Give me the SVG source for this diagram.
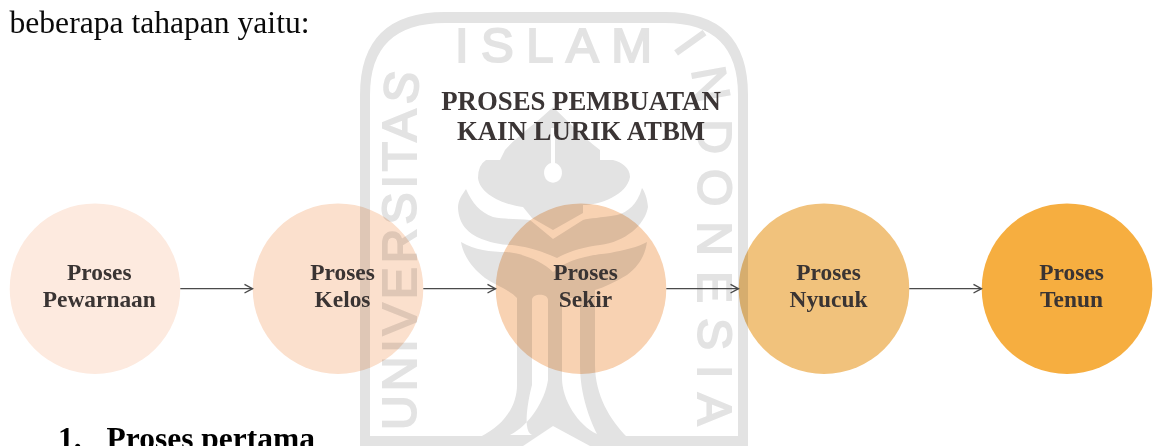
<svg xmlns="http://www.w3.org/2000/svg" width="1155" height="446" viewBox="0 0 1155 446">
<style>
.wm{fill:#e3e3e3}
.wmt{fill:#e3e3e3;stroke:#e3e3e3;stroke-width:2;font-family:"Liberation Sans",Arial,sans-serif;font-size:48px}
.c{mix-blend-mode:multiply}
.l{font-family:"Liberation Serif","Times New Roman",serif;font-weight:bold;font-size:23.4px;fill:#3a3433;text-anchor:middle}
.t{font-family:"Liberation Serif","Times New Roman",serif;font-weight:bold;font-size:26.8px;fill:#3b3535;text-anchor:middle}
.b{font-family:"Liberation Serif","Times New Roman",serif;font-size:31.6px;fill:#0a0a0a}
.bb{font-family:"Liberation Serif","Times New Roman",serif;font-size:31.5px;font-weight:bold;fill:#000}
.a{fill:none;stroke:#4a4a4a;stroke-width:1.3}
</style>
<defs>
<marker id="ah" markerUnits="userSpaceOnUse" markerWidth="12" markerHeight="12" refX="9" refY="6" orient="auto"><path d="M1,1.7L9,6L1,10.3" fill="none" stroke="#4a4a4a" stroke-width="1.4"/></marker>
<path id="pl" d="M416,430V120Q416,80 425,60"/>
<path id="pr" d="M672,48Q698,72 698,120V432"/>
</defs>
<rect width="1155" height="446" fill="#fff"/>
<g id="watermark">
<path class="wm" fill-rule="evenodd" d="M360,446V95Q360,12 445,12H665Q748,12 748,95V446ZM370,436H738V95Q738,23 665,23H445Q370,23 370,95Z"/>
<path class="wm" d="M553,107C540,120 515,138 505,150L500,160H486Q478,165 478,178C480,195 505,205 523,207L532,218L553,230L583,213V205C600,205 627,195 630,177C630,168 622,162 613,160H600L600,150C580,135 565,118 553,107Z"/>
<path fill="#fff" d="M551,128H555V163A9,10 0 1 1 551,163Z"/>
<path class="wm" d="M466,189C462,195 458,200 458,208C459,225 468,232 477,237C490,243 503,245 512,245C522,246 540,250 557,258C567,252 583,247 600,245C625,242 645,225 648,207C647,198 645,192 642,188C637,205 628,212 617,215C600,218 590,218 583,220L553,239L530,220C515,219 503,219 493,217C480,212 472,203 466,189Z"/>
<path class="wm" d="M461,242C475,250 490,252 507,252C525,254 543,262 553,272C565,262 580,256 610,253C625,250 638,247 647,242C645,255 640,265 627,275C615,282 605,287 595,290V365C595,395 610,420 627,437H480C505,425 517,405 517,385V298C510,290 495,285 485,278C472,268 463,255 461,242Z"/>
<path fill="#fff" d="M532,300C532,293 548,293 548,300V380C545,400 530,425 510,435H532C520,430 532,385 532,385Z"/>
<path fill="#fff" d="M562,298H580V365C580,395 590,420 597,434C578,425 562,400 562,378Z"/>
<path fill="#fff" d="M523,446L553,426L590,446Z"/>
<text class="wmt" x="455" y="62" textLength="197" style="font-size:49px">ISLAM</text>
<text class="wmt" letter-spacing="4"><textPath href="#pl">UNIVERSITAS</textPath></text>
<text class="wmt" letter-spacing="15"><textPath href="#pr">INDONESIA</textPath></text>
</g>
<text class="b" x="9.5" y="33">beberapa tahapan yaitu:</text>
<text class="t" x="581" y="109.5">PROSES PEMBUATAN</text>
<text class="t" x="581" y="140">KAIN LURIK ATBM</text>
<g id="n1"><circle class="c" cx="95" cy="288.7" r="85.3" fill="#fdeadf"/><text class="l" x="99.3" y="280">Proses</text><text class="l" x="99.3" y="307">Pewarnaan</text></g>
<g id="n2"><circle class="c" cx="338" cy="288.7" r="85.3" fill="#fbe0cd"/><text class="l" x="342.5" y="280">Proses</text><text class="l" x="342.5" y="307">Kelos</text></g>
<g id="n3"><circle class="c" cx="581" cy="288.7" r="85.3" fill="#f8d2b2"/><text class="l" x="585.5" y="280">Proses</text><text class="l" x="585.5" y="307">Sekir</text></g>
<g id="n4"><circle class="c" cx="824" cy="288.7" r="85.3" fill="#f1c27c"/><text class="l" x="828.5" y="280">Proses</text><text class="l" x="828.5" y="307">Nyucuk</text></g>
<g id="n5"><circle class="c" cx="1067" cy="288.7" r="85.3" fill="#f6ae40"/><text class="l" x="1071.5" y="280">Proses</text><text class="l" x="1071.5" y="307">Tenun</text></g>
<g id="connectors">
<path class="a" marker-end="url(#ah)" d="M180.3,288.7H252.5"/>
<path class="a" marker-end="url(#ah)" d="M423.3,288.7H495.5"/>
<path class="a" marker-end="url(#ah)" d="M666.3,288.7H738.5"/>
<path class="a" marker-end="url(#ah)" d="M909.3,288.7H981.5"/>
</g>
<text class="bb" x="58" y="449">1.</text>
<text class="bb" x="106.5" y="449">Proses pertama</text>
</svg>
